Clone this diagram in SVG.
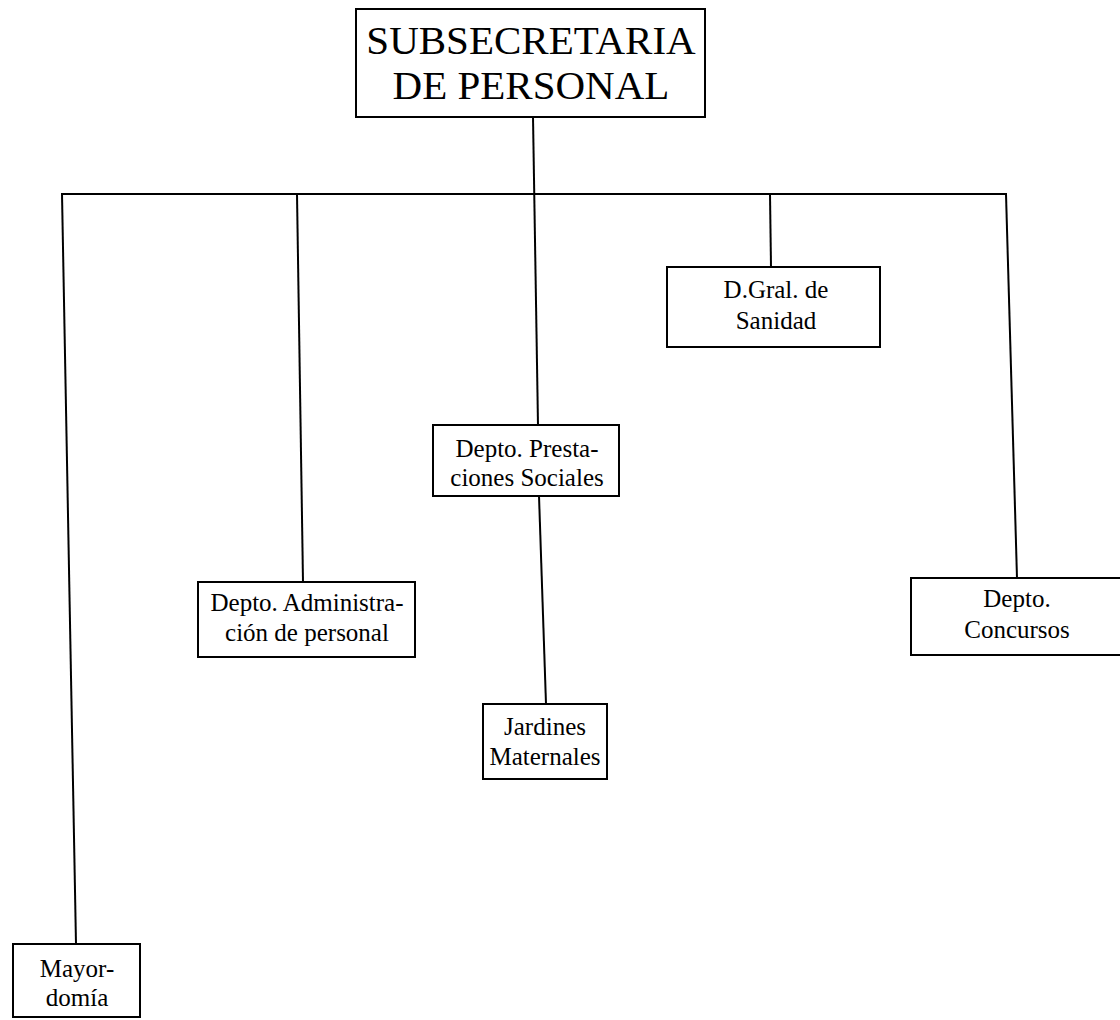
<svg xmlns="http://www.w3.org/2000/svg" width="1120" height="1020" viewBox="0 0 1120 1020" font-family="Liberation Serif, DejaVu Serif, serif">
<style>
.box{fill:#fff;stroke:#000;stroke-width:2}
text{font-size:25px;fill:#000;text-anchor:middle}
text.big{font-size:41px}
.c{stroke:#000;stroke-width:2;fill:none}
</style>
<rect width="1120" height="1020" fill="#fff"/>
<g id="connectors">
<line class="c" x1="533" y1="117" x2="538" y2="425"/>
<line class="c" x1="61" y1="194" x2="1007" y2="194"/>
<line class="c" x1="62" y1="194" x2="76" y2="944"/>
<line class="c" x1="297" y1="194" x2="303" y2="582"/>
<line class="c" x1="770" y1="194" x2="771" y2="267"/>
<line class="c" x1="1006" y1="194" x2="1017" y2="578"/>
<line class="c" x1="539" y1="496" x2="546" y2="704"/>
</g>
<g id="subsecretaria">
<rect class="box" x="356" y="9" width="349" height="108"/>
<text class="big" x="531" y="54">SUBSECRETARIA</text>
<text class="big" x="531" y="99">DE PERSONAL</text>
</g>
<g id="sanidad">
<rect class="box" x="667" y="267" width="213" height="80"/>
<text x="776" y="298">D.Gral. de</text>
<text x="776" y="329">Sanidad</text>
</g>
<g id="prestaciones">
<rect class="box" x="433" y="425" width="186" height="71"/>
<text x="527" y="457">Depto. Presta-</text>
<text x="527" y="486">ciones Sociales</text>
</g>
<g id="administracion">
<rect class="box" x="198" y="582" width="217" height="75"/>
<text x="307" y="611">Depto. Administra-</text>
<text x="307" y="641">ción de personal</text>
</g>
<g id="concursos">
<rect class="box" x="911" y="578" width="212" height="77"/>
<text x="1017" y="607">Depto.</text>
<text x="1017" y="638">Concursos</text>
</g>
<g id="jardines">
<rect class="box" x="483" y="704" width="124" height="75"/>
<text x="545" y="735">Jardines</text>
<text x="545" y="765">Maternales</text>
</g>
<g id="mayordomia">
<rect class="box" x="13" y="944" width="127" height="73"/>
<text x="77" y="977">Mayor-</text>
<text x="77" y="1006">domía</text>
</g>
</svg>
